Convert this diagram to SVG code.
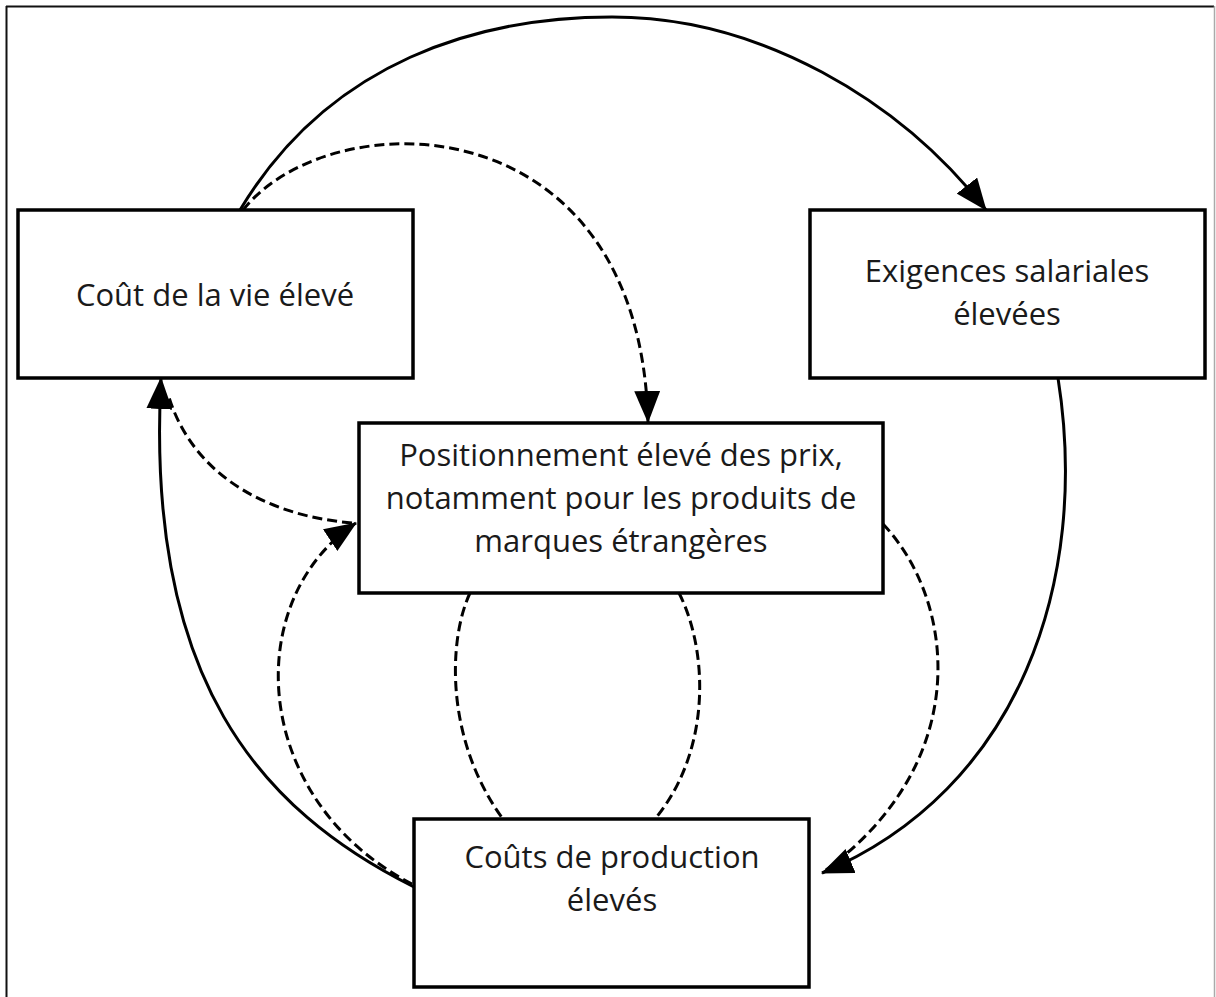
<svg xmlns="http://www.w3.org/2000/svg" width="1216" height="997" viewBox="0 0 1216 997">
<style>
.box{fill:#fff;stroke:#000;stroke-width:3.5}
.t{font-family:"Open Sans","Liberation Sans",sans-serif;font-size:31px;fill:#1a1a1a;text-anchor:middle}
.solid{fill:none;stroke:#000;stroke-width:3}
.dash{fill:none;stroke:#000;stroke-width:3;stroke-dasharray:10 5}
</style>
<defs>
<marker id="ah" markerUnits="userSpaceOnUse" markerWidth="32" markerHeight="26" viewBox="0 0 32 26" refX="31" refY="13" orient="auto">
<path d="M0,0 L32,13 L0,26 z" fill="#000"/>
</marker>
</defs>
<rect x="0" y="0" width="1216" height="997" fill="#fff"/>
<g id="frame">
<line x1="6" y1="6.5" x2="1214" y2="6.5" stroke="#111" stroke-width="2"/>
<line x1="6.5" y1="6" x2="6.5" y2="997" stroke="#111" stroke-width="2"/>
<line x1="1214.5" y1="6" x2="1214.5" y2="997" stroke="#aaa" stroke-width="1.5"/>
</g>
<g id="connectors">
<path class="solid" d="M240,210 C330,60 480,17 612,17 C760,17 900,100 986,210" marker-end="url(#ah)"/>
<path class="dash" d="M243,210 C330,100 640,100 648,422" marker-end="url(#ah)"/>
<path class="solid" d="M1058,378 C1090,580 1020,790 822,873" marker-end="url(#ah)"/>
<path class="dash" d="M883,524 C955,600 975,760 826,870"/>
<path class="solid" d="M414,887 C260,810 145,680 161,378" marker-end="url(#ah)"/>
<path class="dash" d="M412,884 C250,800 240,600 356,523" marker-end="url(#ah)"/>
<path class="dash" d="M352,523 C260,515 190,470 168,394"/>
<path class="dash" d="M470,593 C448,640 445,740 503,819"/>
<path class="dash" d="M679,593 C708,650 712,750 655,819"/>
</g>
<g id="node-cout-vie">
<rect class="box" x="18" y="210" width="395" height="168"/>
<text class="t" x="215" y="306">Coût de la vie élevé</text>
</g>
<g id="node-exigences">
<rect class="box" x="810" y="210" width="395" height="168"/>
<text class="t" x="1007" y="282">Exigences salariales</text>
<text class="t" x="1007" y="325">élevées</text>
</g>
<g id="node-positionnement">
<rect class="box" x="359" y="423" width="524" height="170"/>
<text class="t" x="621" y="466">Positionnement élevé des prix,</text>
<text class="t" x="621" y="509">notamment pour les produits de</text>
<text class="t" x="621" y="552">marques étrangères</text>
</g>
<g id="node-couts-production">
<rect class="box" x="414" y="819" width="395" height="168"/>
<text class="t" x="612" y="868">Coûts de production</text>
<text class="t" x="612" y="911">élevés</text>
</g>
</svg>
